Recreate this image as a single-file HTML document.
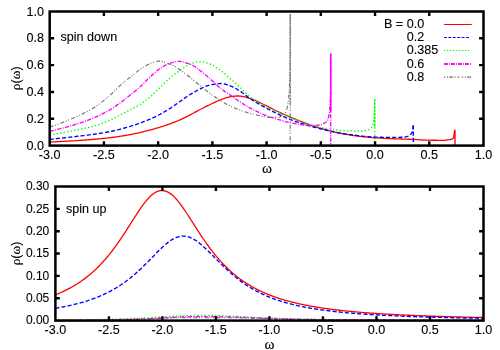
<!DOCTYPE html>
<html><head><meta charset="utf-8"><title>rho(omega)</title>
<style>html,body{margin:0;padding:0;background:#fff;}svg{display:block;will-change:transform;}text{font-family:"Liberation Sans",sans-serif;font-size:12px;fill:#000;stroke:#000;stroke-width:0.1px;}.sym{font-family:"Liberation Serif",serif;}</style></head><body>
<svg width="500" height="350" viewBox="0 0 500 350">
<rect x="0" y="0" width="500" height="350" fill="#ffffff"/>
<clipPath id="c11"><rect x="49.70" y="11.50" width="433.80" height="134.10"/></clipPath>
<g clip-path="url(#c11)" fill="none" stroke-linejoin="round">
<path d="M49.70 142.00 L50.70 141.96 L51.70 141.91 L52.70 141.87 L53.70 141.83 L54.70 141.78 L55.70 141.74 L56.70 141.69 L57.70 141.64 L58.70 141.59 L59.70 141.55 L60.70 141.50 L61.70 141.45 L62.70 141.40 L63.70 141.35 L64.70 141.29 L65.70 141.24 L66.70 141.19 L67.70 141.13 L68.70 141.08 L69.70 141.02 L70.70 140.96 L71.70 140.90 L72.70 140.84 L73.70 140.78 L74.70 140.72 L75.70 140.66 L76.70 140.60 L77.70 140.53 L78.70 140.47 L79.70 140.40 L80.70 140.34 L81.70 140.27 L82.70 140.20 L83.70 140.13 L84.70 140.06 L85.70 139.98 L86.70 139.91 L87.70 139.83 L88.70 139.76 L89.70 139.68 L90.70 139.60 L91.70 139.52 L92.70 139.43 L93.70 139.35 L94.70 139.26 L95.70 139.18 L96.70 139.09 L97.70 139.00 L98.70 138.90 L99.70 138.81 L100.70 138.71 L101.70 138.61 L102.70 138.51 L103.70 138.41 L104.70 138.30 L105.70 138.19 L106.70 138.08 L107.70 137.97 L108.70 137.86 L109.70 137.74 L110.70 137.62 L111.70 137.50 L112.70 137.37 L113.70 137.24 L114.70 137.10 L115.70 136.97 L116.70 136.83 L117.70 136.68 L118.70 136.54 L119.70 136.39 L120.70 136.23 L121.70 136.07 L122.70 135.91 L123.70 135.75 L124.70 135.58 L125.70 135.41 L126.70 135.23 L127.70 135.05 L128.70 134.87 L129.70 134.69 L130.70 134.50 L131.70 134.30 L132.70 134.11 L133.70 133.91 L134.70 133.70 L135.70 133.50 L136.70 133.29 L137.70 133.07 L138.70 132.86 L139.70 132.64 L140.70 132.41 L141.70 132.18 L142.70 131.95 L143.70 131.70 L144.70 131.46 L145.70 131.21 L146.70 130.95 L147.70 130.69 L148.70 130.42 L149.70 130.15 L150.70 129.88 L151.70 129.60 L152.70 129.32 L153.70 129.03 L154.70 128.74 L155.70 128.45 L156.70 128.15 L157.70 127.86 L158.70 127.55 L159.70 127.25 L160.70 126.95 L161.70 126.64 L162.70 126.32 L163.70 126.00 L164.70 125.68 L165.70 125.34 L166.70 125.01 L167.70 124.66 L168.70 124.31 L169.70 123.96 L170.70 123.59 L171.70 123.22 L172.70 122.85 L173.70 122.46 L174.70 122.07 L175.70 121.67 L176.70 121.27 L177.70 120.86 L178.70 120.44 L179.70 120.01 L180.70 119.57 L181.70 119.12 L182.70 118.65 L183.70 118.17 L184.70 117.69 L185.70 117.19 L186.70 116.68 L187.70 116.16 L188.70 115.64 L189.70 115.11 L190.70 114.58 L191.70 114.04 L192.70 113.50 L193.70 112.96 L194.70 112.42 L195.70 111.89 L196.70 111.35 L197.70 110.82 L198.70 110.29 L199.70 109.76 L200.70 109.25 L201.70 108.73 L202.70 108.22 L203.70 107.71 L204.70 107.20 L205.70 106.70 L206.70 106.20 L207.70 105.70 L208.70 105.21 L209.70 104.72 L210.70 104.24 L211.70 103.75 L212.70 103.28 L213.70 102.81 L214.70 102.34 L215.70 101.89 L216.70 101.44 L217.70 101.00 L218.70 100.57 L219.70 100.16 L220.70 99.75 L221.70 99.36 L222.70 98.99 L223.70 98.64 L224.70 98.30 L225.70 97.98 L226.70 97.69 L227.70 97.41 L228.70 97.16 L229.70 96.93 L230.70 96.72 L231.70 96.54 L232.70 96.38 L233.70 96.25 L234.70 96.15 L235.70 96.07 L236.70 96.02 L237.70 96.00 L238.00 96.00 L238.70 96.01 L239.70 96.07 L240.70 96.18 L241.70 96.33 L242.70 96.51 L243.70 96.72 L244.70 96.95 L245.70 97.21 L246.70 97.48 L247.70 97.75 L248.70 98.04 L249.70 98.32 L250.70 98.61 L251.70 98.94 L252.70 99.32 L253.70 99.74 L254.70 100.18 L255.70 100.65 L256.70 101.13 L257.70 101.61 L258.70 102.09 L259.70 102.56 L260.70 103.02 L261.70 103.49 L262.70 103.97 L263.70 104.46 L264.70 104.96 L265.70 105.45 L266.70 105.95 L267.70 106.45 L268.70 106.95 L269.70 107.45 L270.70 107.95 L271.70 108.45 L272.70 108.96 L273.70 109.47 L274.70 109.98 L275.70 110.49 L276.70 110.99 L277.70 111.49 L278.70 111.98 L279.70 112.46 L280.70 112.93 L281.70 113.38 L282.70 113.84 L283.70 114.28 L284.70 114.72 L285.70 115.16 L286.70 115.59 L287.70 116.02 L288.70 116.45 L289.70 116.87 L290.70 117.30 L291.70 117.72 L292.70 118.14 L293.70 118.55 L294.70 118.96 L295.70 119.37 L296.70 119.78 L297.70 120.18 L298.70 120.58 L299.70 120.98 L300.70 121.38 L301.70 121.77 L302.70 122.17 L303.70 122.56 L304.70 122.95 L305.70 123.34 L306.70 123.71 L307.70 124.08 L308.70 124.45 L309.70 124.80 L310.70 125.14 L311.70 125.47 L312.70 125.78 L313.70 126.10 L314.70 126.40 L315.70 126.71 L316.70 127.01 L317.70 127.31 L318.70 127.61 L319.70 127.91 L320.70 128.22 L321.70 128.53 L322.70 128.85 L323.70 129.16 L324.70 129.48 L325.70 129.79 L326.70 130.09 L327.70 130.39 L328.70 130.66 L329.70 130.93 L330.70 131.17 L331.70 131.41 L332.70 131.65 L333.70 131.88 L334.70 132.11 L335.70 132.33 L336.70 132.55 L337.70 132.76 L338.70 132.97 L339.70 133.18 L340.70 133.38 L341.70 133.57 L342.70 133.76 L343.70 133.95 L344.70 134.13 L345.70 134.31 L346.70 134.48 L347.70 134.64 L348.70 134.80 L349.70 134.95 L350.70 135.10 L351.70 135.25 L352.70 135.40 L353.70 135.54 L354.70 135.68 L355.70 135.82 L356.70 135.95 L357.70 136.08 L358.70 136.21 L359.70 136.34 L360.70 136.46 L361.70 136.58 L362.70 136.69 L363.70 136.80 L364.70 136.91 L365.70 137.01 L366.70 137.11 L367.70 137.20 L368.70 137.29 L369.70 137.38 L370.70 137.46 L371.70 137.53 L372.70 137.61 L373.70 137.68 L374.70 137.75 L375.70 137.82 L376.70 137.88 L377.70 137.95 L378.70 138.01 L379.70 138.07 L380.70 138.13 L381.70 138.19 L382.70 138.24 L383.70 138.30 L384.70 138.35 L385.70 138.40 L386.70 138.45 L387.70 138.49 L388.70 138.54 L389.70 138.59 L390.70 138.63 L391.70 138.67 L392.70 138.71 L393.70 138.75 L394.70 138.79 L395.70 138.82 L396.70 138.86 L397.70 138.89 L398.70 138.92 L399.70 138.95 L400.70 138.98 L401.70 139.01 L402.70 139.04 L403.70 139.07 L404.70 139.11 L405.70 139.14 L406.70 139.17 L407.70 139.20 L408.70 139.24 L409.70 139.27 L410.70 139.31 L411.70 139.35 L412.70 139.39 L413.70 139.43 L414.70 139.48 L415.70 139.54 L416.70 139.60 L417.70 139.66 L418.70 139.72 L419.70 139.79 L420.70 139.85 L421.70 139.92 L422.70 139.98 L423.70 140.03 L424.70 140.08 L425.70 140.12 L426.70 140.16 L427.70 140.19 L428.70 140.20 L429.70 140.21 L430.70 140.22 L431.70 140.23 L432.70 140.24 L433.70 140.25 L434.70 140.26 L435.70 140.27 L436.70 140.27 L437.70 140.28 L438.70 140.29 L439.70 140.29 L440.70 140.29 L441.70 140.30 L442.70 140.30 L443.70 140.30 L444.70 140.27 L445.70 140.15 L446.70 139.99 L447.70 139.86 L448.70 139.73 L449.70 139.57 L450.70 139.37 L451.70 139.09 L452.70 138.61 L453.70 137.50 L454.65 130.20 L455.00 130.40 L455.00 145.60" stroke="#ff0000" stroke-width="1.3"/>
<path d="M49.70 139.40 L50.70 139.29 L51.70 139.19 L52.70 139.08 L53.70 138.97 L54.70 138.87 L55.70 138.76 L56.70 138.65 L57.70 138.54 L58.70 138.43 L59.70 138.32 L60.70 138.21 L61.70 138.10 L62.70 137.99 L63.70 137.88 L64.70 137.77 L65.70 137.66 L66.70 137.54 L67.70 137.43 L68.70 137.31 L69.70 137.20 L70.70 137.09 L71.70 136.97 L72.70 136.86 L73.70 136.74 L74.70 136.63 L75.70 136.52 L76.70 136.40 L77.70 136.29 L78.70 136.17 L79.70 136.05 L80.70 135.94 L81.70 135.82 L82.70 135.70 L83.70 135.58 L84.70 135.45 L85.70 135.33 L86.70 135.20 L87.70 135.07 L88.70 134.94 L89.70 134.80 L90.70 134.67 L91.70 134.53 L92.70 134.39 L93.70 134.25 L94.70 134.11 L95.70 133.96 L96.70 133.82 L97.70 133.67 L98.70 133.52 L99.70 133.37 L100.70 133.21 L101.70 133.06 L102.70 132.89 L103.70 132.73 L104.70 132.56 L105.70 132.38 L106.70 132.21 L107.70 132.02 L108.70 131.83 L109.70 131.64 L110.70 131.44 L111.70 131.24 L112.70 131.02 L113.70 130.80 L114.70 130.58 L115.70 130.34 L116.70 130.10 L117.70 129.86 L118.70 129.60 L119.70 129.35 L120.70 129.08 L121.70 128.82 L122.70 128.54 L123.70 128.27 L124.70 127.99 L125.70 127.70 L126.70 127.41 L127.70 127.12 L128.70 126.83 L129.70 126.53 L130.70 126.22 L131.70 125.92 L132.70 125.60 L133.70 125.28 L134.70 124.95 L135.70 124.62 L136.70 124.27 L137.70 123.93 L138.70 123.57 L139.70 123.21 L140.70 122.85 L141.70 122.48 L142.70 122.10 L143.70 121.71 L144.70 121.32 L145.70 120.93 L146.70 120.53 L147.70 120.12 L148.70 119.71 L149.70 119.29 L150.70 118.87 L151.70 118.43 L152.70 117.97 L153.70 117.50 L154.70 117.03 L155.70 116.54 L156.70 116.03 L157.70 115.52 L158.70 115.01 L159.70 114.48 L160.70 113.95 L161.70 113.40 L162.70 112.84 L163.70 112.27 L164.70 111.69 L165.70 111.10 L166.70 110.50 L167.70 109.89 L168.70 109.27 L169.70 108.64 L170.70 108.00 L171.70 107.34 L172.70 106.67 L173.70 105.98 L174.70 105.28 L175.70 104.57 L176.70 103.86 L177.70 103.16 L178.70 102.45 L179.70 101.75 L180.70 101.06 L181.70 100.34 L182.70 99.62 L183.70 98.88 L184.70 98.16 L185.70 97.43 L186.70 96.73 L187.70 96.05 L188.70 95.39 L189.70 94.78 L190.70 94.19 L191.70 93.60 L192.70 93.02 L193.70 92.43 L194.70 91.86 L195.70 91.29 L196.70 90.72 L197.70 90.18 L198.70 89.64 L199.70 89.13 L200.70 88.63 L201.70 88.13 L202.70 87.64 L203.70 87.18 L204.70 86.74 L205.70 86.33 L206.70 85.96 L207.70 85.62 L208.70 85.33 L209.70 85.09 L210.70 84.88 L211.70 84.68 L212.70 84.49 L213.70 84.31 L214.70 84.14 L215.70 83.98 L216.70 83.84 L217.70 83.72 L218.70 83.62 L219.70 83.55 L220.70 83.51 L221.70 83.51 L222.70 83.61 L223.70 83.78 L224.70 84.02 L225.70 84.31 L226.70 84.64 L227.70 84.99 L228.70 85.35 L229.70 85.70 L230.70 86.06 L231.70 86.46 L232.70 86.90 L233.70 87.39 L234.70 87.91 L235.70 88.46 L236.70 89.03 L237.70 89.62 L238.70 90.21 L239.70 90.82 L240.70 91.46 L241.70 92.17 L242.70 92.92 L243.70 93.71 L244.70 94.52 L245.70 95.33 L246.70 96.14 L247.70 96.92 L248.70 97.68 L249.70 98.40 L250.70 99.06 L251.70 99.71 L252.70 100.34 L253.70 100.95 L254.70 101.55 L255.70 102.14 L256.70 102.72 L257.70 103.29 L258.70 103.86 L259.70 104.43 L260.70 105.00 L261.70 105.56 L262.70 106.11 L263.70 106.66 L264.70 107.20 L265.70 107.74 L266.70 108.27 L267.70 108.80 L268.70 109.32 L269.70 109.84 L270.70 110.36 L271.70 110.88 L272.70 111.39 L273.70 111.91 L274.70 112.41 L275.70 112.91 L276.70 113.41 L277.70 113.90 L278.70 114.38 L279.70 114.86 L280.70 115.33 L281.70 115.79 L282.70 116.25 L283.70 116.71 L284.70 117.16 L285.70 117.60 L286.70 118.03 L287.70 118.46 L288.70 118.88 L289.70 119.28 L290.70 119.68 L291.70 120.06 L292.70 120.44 L293.70 120.81 L294.70 121.18 L295.70 121.54 L296.70 121.89 L297.70 122.23 L298.70 122.57 L299.70 122.90 L300.70 123.23 L301.70 123.55 L302.70 123.86 L303.70 124.17 L304.70 124.47 L305.70 124.77 L306.70 125.06 L307.70 125.35 L308.70 125.64 L309.70 125.92 L310.70 126.19 L311.70 126.47 L312.70 126.73 L313.70 127.00 L314.70 127.26 L315.70 127.52 L316.70 127.77 L317.70 128.02 L318.70 128.27 L319.70 128.53 L320.70 128.78 L321.70 129.03 L322.70 129.28 L323.70 129.53 L324.70 129.78 L325.70 130.02 L326.70 130.26 L327.70 130.49 L328.70 130.72 L329.70 130.94 L330.70 131.15 L331.70 131.35 L332.70 131.56 L333.70 131.76 L334.70 131.96 L335.70 132.16 L336.70 132.36 L337.70 132.55 L338.70 132.74 L339.70 132.93 L340.70 133.11 L341.70 133.29 L342.70 133.46 L343.70 133.63 L344.70 133.80 L345.70 133.96 L346.70 134.12 L347.70 134.27 L348.70 134.42 L349.70 134.56 L350.70 134.70 L351.70 134.83 L352.70 134.97 L353.70 135.11 L354.70 135.24 L355.70 135.38 L356.70 135.51 L357.70 135.64 L358.70 135.77 L359.70 135.89 L360.70 136.01 L361.70 136.12 L362.70 136.23 L363.70 136.33 L364.70 136.42 L365.70 136.51 L366.70 136.59 L367.70 136.67 L368.70 136.73 L369.70 136.79 L370.70 136.83 L371.70 136.88 L372.70 136.93 L373.70 136.97 L374.70 137.01 L375.70 137.06 L376.70 137.10 L377.70 137.14 L378.70 137.17 L379.70 137.21 L380.70 137.24 L381.70 137.27 L382.70 137.30 L383.70 137.32 L384.70 137.34 L385.70 137.36 L386.70 137.38 L387.70 137.39 L388.70 137.40 L389.70 137.40 L390.70 137.40 L391.70 137.40 L392.70 137.39 L393.70 137.38 L394.70 137.38 L395.70 137.37 L396.70 137.35 L397.70 137.34 L398.70 137.32 L399.70 137.31 L400.70 137.28 L401.70 137.24 L402.70 137.19 L403.70 137.12 L404.70 137.02 L405.70 136.86 L406.70 136.64 L407.70 136.32 L408.70 135.83 L409.70 135.12 L410.70 134.27 L411.70 133.06 L412.70 130.80 L413.10 124.40 L413.30 124.40 L413.30 143.00" stroke="#0000ff" stroke-width="1.35" stroke-dasharray="4.1 2.1"/>
<path d="M49.70 135.10 L50.70 134.90 L51.70 134.71 L52.70 134.52 L53.70 134.33 L54.70 134.13 L55.70 133.94 L56.70 133.75 L57.70 133.56 L58.70 133.37 L59.70 133.17 L60.70 132.98 L61.70 132.79 L62.70 132.59 L63.70 132.40 L64.70 132.21 L65.70 132.01 L66.70 131.82 L67.70 131.62 L68.70 131.43 L69.70 131.23 L70.70 131.04 L71.70 130.84 L72.70 130.66 L73.70 130.47 L74.70 130.29 L75.70 130.11 L76.70 129.93 L77.70 129.75 L78.70 129.57 L79.70 129.39 L80.70 129.20 L81.70 129.01 L82.70 128.82 L83.70 128.62 L84.70 128.41 L85.70 128.20 L86.70 127.98 L87.70 127.76 L88.70 127.52 L89.70 127.27 L90.70 127.02 L91.70 126.75 L92.70 126.47 L93.70 126.17 L94.70 125.87 L95.70 125.55 L96.70 125.23 L97.70 124.90 L98.70 124.55 L99.70 124.20 L100.70 123.84 L101.70 123.47 L102.70 123.10 L103.70 122.72 L104.70 122.33 L105.70 121.94 L106.70 121.53 L107.70 121.10 L108.70 120.67 L109.70 120.23 L110.70 119.78 L111.70 119.31 L112.70 118.83 L113.70 118.33 L114.70 117.83 L115.70 117.32 L116.70 116.80 L117.70 116.28 L118.70 115.76 L119.70 115.24 L120.70 114.73 L121.70 114.20 L122.70 113.68 L123.70 113.15 L124.70 112.63 L125.70 112.10 L126.70 111.57 L127.70 111.04 L128.70 110.51 L129.70 109.99 L130.70 109.47 L131.70 108.95 L132.70 108.44 L133.70 107.93 L134.70 107.41 L135.70 106.88 L136.70 106.33 L137.70 105.77 L138.70 105.19 L139.70 104.59 L140.70 103.95 L141.70 103.30 L142.70 102.62 L143.70 101.91 L144.70 101.19 L145.70 100.44 L146.70 99.68 L147.70 98.90 L148.70 98.11 L149.70 97.30 L150.70 96.47 L151.70 95.60 L152.70 94.70 L153.70 93.77 L154.70 92.82 L155.70 91.85 L156.70 90.88 L157.70 89.91 L158.70 88.94 L159.70 87.98 L160.70 87.03 L161.70 86.05 L162.70 85.06 L163.70 84.05 L164.70 83.04 L165.70 82.03 L166.70 81.03 L167.70 80.06 L168.70 79.13 L169.70 78.24 L170.70 77.39 L171.70 76.57 L172.70 75.78 L173.70 75.01 L174.70 74.26 L175.70 73.54 L176.70 72.82 L177.70 72.12 L178.70 71.42 L179.70 70.73 L180.70 70.03 L181.70 69.31 L182.70 68.57 L183.70 67.83 L184.70 67.11 L185.70 66.41 L186.70 65.75 L187.70 65.14 L188.70 64.59 L189.70 64.12 L190.70 63.76 L191.70 63.41 L192.70 63.08 L193.70 62.75 L194.70 62.46 L195.70 62.19 L196.70 61.96 L197.70 61.78 L198.70 61.66 L199.70 61.60 L200.70 61.62 L201.70 61.70 L202.70 61.85 L203.70 62.05 L204.70 62.29 L205.70 62.57 L206.70 62.88 L207.70 63.21 L208.70 63.55 L209.70 63.90 L210.70 64.26 L211.70 64.69 L212.70 65.19 L213.70 65.75 L214.70 66.36 L215.70 67.00 L216.70 67.68 L217.70 68.37 L218.70 69.08 L219.70 69.79 L220.70 70.51 L221.70 71.27 L222.70 72.08 L223.70 72.92 L224.70 73.79 L225.70 74.68 L226.70 75.57 L227.70 76.47 L228.70 77.36 L229.70 78.24 L230.70 79.10 L231.70 79.95 L232.70 80.81 L233.70 81.66 L234.70 82.52 L235.70 83.38 L236.70 84.24 L237.70 85.12 L238.70 86.02 L239.70 86.92 L240.70 87.86 L241.70 88.85 L242.70 89.88 L243.70 90.92 L244.70 91.98 L245.70 93.02 L246.70 94.04 L247.70 95.01 L248.70 95.93 L249.70 96.77 L250.70 97.53 L251.70 98.25 L252.70 98.94 L253.70 99.59 L254.70 100.23 L255.70 100.84 L256.70 101.43 L257.70 102.01 L258.70 102.57 L259.70 103.13 L260.70 103.68 L261.70 104.22 L262.70 104.73 L263.70 105.23 L264.70 105.73 L265.70 106.21 L266.70 106.69 L267.70 107.17 L268.70 107.66 L269.70 108.15 L270.70 108.65 L271.70 109.16 L272.70 109.67 L273.70 110.18 L274.70 110.69 L275.70 111.20 L276.70 111.71 L277.70 112.20 L278.70 112.69 L279.70 113.16 L280.70 113.62 L281.70 114.08 L282.70 114.54 L283.70 114.99 L284.70 115.44 L285.70 115.87 L286.70 116.30 L287.70 116.71 L288.70 117.11 L289.70 117.49 L290.70 117.85 L291.70 118.19 L292.70 118.52 L293.70 118.83 L294.70 119.14 L295.70 119.44 L296.70 119.74 L297.70 120.05 L298.70 120.37 L299.70 120.70 L300.70 121.04 L301.70 121.41 L302.70 121.78 L303.70 122.17 L304.70 122.56 L305.70 122.94 L306.70 123.33 L307.70 123.70 L308.70 124.06 L309.70 124.40 L310.70 124.73 L311.70 125.05 L312.70 125.38 L313.70 125.70 L314.70 126.01 L315.70 126.31 L316.70 126.59 L317.70 126.86 L318.70 127.11 L319.70 127.34 L320.70 127.54 L321.70 127.73 L322.70 127.90 L323.70 128.07 L324.70 128.23 L325.70 128.38 L326.70 128.52 L327.70 128.67 L328.70 128.81 L329.70 128.96 L330.70 129.11 L331.70 129.26 L332.70 129.42 L333.70 129.58 L334.70 129.74 L335.70 129.89 L336.70 130.03 L337.70 130.16 L338.70 130.27 L339.70 130.37 L340.70 130.46 L341.70 130.54 L342.70 130.62 L343.70 130.69 L344.70 130.76 L345.70 130.83 L346.70 130.88 L347.70 130.93 L348.70 130.97 L349.70 130.99 L350.70 131.01 L351.70 131.03 L352.70 131.04 L353.70 131.06 L354.70 131.07 L355.70 131.08 L356.70 131.09 L357.70 131.09 L358.70 131.10 L359.70 131.10 L360.70 131.09 L361.70 131.04 L362.70 130.96 L363.70 130.84 L364.70 130.71 L365.70 130.55 L366.70 130.35 L367.70 130.05 L368.70 129.62 L369.70 129.08 L370.70 128.36 L371.70 127.18 L372.70 125.37 L373.70 121.38 L374.50 108.00 L374.70 99.60 L374.70 145.60" stroke="#00ff00" stroke-width="1.35" stroke-dasharray="1.4 2.15"/>
<path d="M49.70 131.20 L50.70 130.99 L51.70 130.77 L52.70 130.55 L53.70 130.33 L54.70 130.10 L55.70 129.86 L56.70 129.62 L57.70 129.38 L58.70 129.14 L59.70 128.89 L60.70 128.63 L61.70 128.38 L62.70 128.11 L63.70 127.85 L64.70 127.58 L65.70 127.31 L66.70 127.03 L67.70 126.76 L68.70 126.47 L69.70 126.19 L70.70 125.90 L71.70 125.61 L72.70 125.32 L73.70 125.02 L74.70 124.72 L75.70 124.41 L76.70 124.10 L77.70 123.78 L78.70 123.46 L79.70 123.14 L80.70 122.81 L81.70 122.47 L82.70 122.13 L83.70 121.78 L84.70 121.43 L85.70 121.07 L86.70 120.70 L87.70 120.32 L88.70 119.94 L89.70 119.55 L90.70 119.15 L91.70 118.75 L92.70 118.33 L93.70 117.91 L94.70 117.48 L95.70 117.04 L96.70 116.59 L97.70 116.13 L98.70 115.67 L99.70 115.19 L100.70 114.71 L101.70 114.21 L102.70 113.71 L103.70 113.20 L104.70 112.67 L105.70 112.14 L106.70 111.60 L107.70 111.05 L108.70 110.49 L109.70 109.91 L110.70 109.33 L111.70 108.72 L112.70 108.09 L113.70 107.44 L114.70 106.77 L115.70 106.09 L116.70 105.39 L117.70 104.67 L118.70 103.95 L119.70 103.21 L120.70 102.46 L121.70 101.70 L122.70 100.93 L123.70 100.15 L124.70 99.37 L125.70 98.58 L126.70 97.79 L127.70 97.00 L128.70 96.22 L129.70 95.43 L130.70 94.64 L131.70 93.86 L132.70 93.06 L133.70 92.26 L134.70 91.45 L135.70 90.63 L136.70 89.80 L137.70 88.96 L138.70 88.09 L139.70 87.21 L140.70 86.30 L141.70 85.36 L142.70 84.38 L143.70 83.37 L144.70 82.36 L145.70 81.34 L146.70 80.32 L147.70 79.31 L148.70 78.33 L149.70 77.38 L150.70 76.46 L151.70 75.53 L152.70 74.60 L153.70 73.69 L154.70 72.79 L155.70 71.91 L156.70 71.06 L157.70 70.25 L158.70 69.49 L159.70 68.78 L160.70 68.12 L161.70 67.47 L162.70 66.84 L163.70 66.23 L164.70 65.65 L165.70 65.10 L166.70 64.59 L167.70 64.13 L168.70 63.71 L169.70 63.36 L170.70 63.04 L171.70 62.73 L172.70 62.43 L173.70 62.15 L174.70 61.89 L175.70 61.68 L176.70 61.52 L177.70 61.42 L178.70 61.39 L179.70 61.43 L180.70 61.53 L181.70 61.68 L182.70 61.88 L183.70 62.13 L184.70 62.40 L185.70 62.71 L186.70 63.04 L187.70 63.38 L188.70 63.74 L189.70 64.09 L190.70 64.47 L191.70 64.91 L192.70 65.42 L193.70 66.00 L194.70 66.62 L195.70 67.29 L196.70 68.00 L197.70 68.74 L198.70 69.51 L199.70 70.28 L200.70 71.03 L201.70 71.79 L202.70 72.57 L203.70 73.37 L204.70 74.17 L205.70 74.99 L206.70 75.82 L207.70 76.66 L208.70 77.51 L209.70 78.37 L210.70 79.25 L211.70 80.17 L212.70 81.11 L213.70 82.08 L214.70 83.06 L215.70 84.03 L216.70 84.98 L217.70 85.91 L218.70 86.81 L219.70 87.65 L220.70 88.44 L221.70 89.20 L222.70 89.93 L223.70 90.63 L224.70 91.32 L225.70 92.00 L226.70 92.67 L227.70 93.34 L228.70 94.01 L229.70 94.69 L230.70 95.39 L231.70 96.09 L232.70 96.80 L233.70 97.51 L234.70 98.22 L235.70 98.92 L236.70 99.62 L237.70 100.31 L238.70 100.99 L239.70 101.66 L240.70 102.31 L241.70 102.95 L242.70 103.59 L243.70 104.22 L244.70 104.84 L245.70 105.45 L246.70 106.05 L247.70 106.65 L248.70 107.24 L249.70 107.83 L250.70 108.37 L251.70 108.90 L252.70 109.43 L253.70 109.95 L254.70 110.46 L255.70 110.96 L256.70 111.46 L257.70 111.94 L258.70 112.41 L259.70 112.87 L260.70 113.31 L261.70 113.75 L262.70 114.17 L263.70 114.59 L264.70 115.01 L265.70 115.41 L266.70 115.80 L267.70 116.18 L268.70 116.54 L269.70 116.90 L270.70 117.24 L271.70 117.57 L272.70 117.88 L273.70 118.19 L274.70 118.49 L275.70 118.79 L276.70 119.07 L277.70 119.36 L278.70 119.64 L279.70 119.92 L280.70 120.20 L281.70 120.48 L282.70 120.75 L283.70 121.03 L284.70 121.30 L285.70 121.57 L286.70 121.83 L287.70 122.07 L288.70 122.31 L289.70 122.54 L290.70 122.75 L291.70 122.95 L292.70 123.15 L293.70 123.35 L294.70 123.53 L295.70 123.71 L296.70 123.88 L297.70 124.05 L298.70 124.21 L299.70 124.36 L300.70 124.50 L301.70 124.66 L302.70 124.82 L303.70 124.98 L304.70 125.14 L305.70 125.28 L306.70 125.40 L307.70 125.50 L308.70 125.57 L309.70 125.60 L310.70 125.60 L311.70 125.58 L312.70 125.55 L313.70 125.50 L314.70 125.45 L315.70 125.38 L316.70 125.31 L317.70 125.23 L318.70 125.11 L319.70 124.92 L320.70 124.64 L321.70 124.30 L322.70 123.89 L323.70 123.44 L324.70 122.93 L325.70 122.24 L326.70 121.27 L327.70 119.80 L328.70 116.78 L329.70 110.97 L330.50 96.00 L330.70 88.00 L330.70 53.90 L330.70 145.60" stroke="#ff00ff" stroke-width="1.35" stroke-dasharray="4.2 1.3 1.0 1.3"/>
<path d="M49.70 126.90 L50.70 126.66 L51.70 126.39 L52.70 126.08 L53.70 125.75 L54.70 125.40 L55.70 125.03 L56.70 124.64 L57.70 124.30 L58.70 123.97 L59.70 123.62 L60.70 123.25 L61.70 122.87 L62.70 122.48 L63.70 122.08 L64.70 121.67 L65.70 121.26 L66.70 120.84 L67.70 120.42 L68.70 120.00 L69.70 119.58 L70.70 119.16 L71.70 118.74 L72.70 118.32 L73.70 117.89 L74.70 117.46 L75.70 117.02 L76.70 116.58 L77.70 116.14 L78.70 115.68 L79.70 115.22 L80.70 114.76 L81.70 114.28 L82.70 113.80 L83.70 113.31 L84.70 112.81 L85.70 112.31 L86.70 111.79 L87.70 111.26 L88.70 110.72 L89.70 110.17 L90.70 109.60 L91.70 109.03 L92.70 108.44 L93.70 107.82 L94.70 107.19 L95.70 106.52 L96.70 105.84 L97.70 105.14 L98.70 104.41 L99.70 103.67 L100.70 102.92 L101.70 102.14 L102.70 101.36 L103.70 100.56 L104.70 99.74 L105.70 98.92 L106.70 98.09 L107.70 97.25 L108.70 96.41 L109.70 95.56 L110.70 94.69 L111.70 93.77 L112.70 92.80 L113.70 91.81 L114.70 90.80 L115.70 89.77 L116.70 88.76 L117.70 87.76 L118.70 86.78 L119.70 85.85 L120.70 84.96 L121.70 84.10 L122.70 83.26 L123.70 82.44 L124.70 81.63 L125.70 80.81 L126.70 79.98 L127.70 79.15 L128.70 78.33 L129.70 77.53 L130.70 76.76 L131.70 75.97 L132.70 75.17 L133.70 74.35 L134.70 73.52 L135.70 72.71 L136.70 71.92 L137.70 71.15 L138.70 70.41 L139.70 69.71 L140.70 69.02 L141.70 68.34 L142.70 67.67 L143.70 67.01 L144.70 66.37 L145.70 65.76 L146.70 65.18 L147.70 64.64 L148.70 64.15 L149.70 63.72 L150.70 63.33 L151.70 62.93 L152.70 62.54 L153.70 62.17 L154.70 61.84 L155.70 61.55 L156.70 61.33 L157.70 61.18 L158.70 61.13 L159.70 61.17 L160.70 61.27 L161.70 61.44 L162.70 61.66 L163.70 61.92 L164.70 62.22 L165.70 62.55 L166.70 62.90 L167.70 63.26 L168.70 63.64 L169.70 64.02 L170.70 64.40 L171.70 64.85 L172.70 65.36 L173.70 65.91 L174.70 66.50 L175.70 67.13 L176.70 67.77 L177.70 68.42 L178.70 69.08 L179.70 69.74 L180.70 70.39 L181.70 71.07 L182.70 71.76 L183.70 72.48 L184.70 73.21 L185.70 73.95 L186.70 74.71 L187.70 75.48 L188.70 76.25 L189.70 77.03 L190.70 77.82 L191.70 78.62 L192.70 79.44 L193.70 80.27 L194.70 81.11 L195.70 81.95 L196.70 82.79 L197.70 83.62 L198.70 84.45 L199.70 85.26 L200.70 86.06 L201.70 86.87 L202.70 87.68 L203.70 88.49 L204.70 89.30 L205.70 90.11 L206.70 90.90 L207.70 91.68 L208.70 92.45 L209.70 93.20 L210.70 93.93 L211.70 94.65 L212.70 95.36 L213.70 96.06 L214.70 96.75 L215.70 97.43 L216.70 98.10 L217.70 98.76 L218.70 99.41 L219.70 100.04 L220.70 100.67 L221.70 101.29 L222.70 101.91 L223.70 102.52 L224.70 103.12 L225.70 103.70 L226.70 104.28 L227.70 104.83 L228.70 105.35 L229.70 105.86 L230.70 106.33 L231.70 106.78 L232.70 107.22 L233.70 107.63 L234.70 108.04 L235.70 108.43 L236.70 108.81 L237.70 109.19 L238.70 109.56 L239.70 109.92 L240.70 110.29 L241.70 110.66 L242.70 111.02 L243.70 111.38 L244.70 111.73 L245.70 112.08 L246.70 112.41 L247.70 112.73 L248.70 113.03 L249.70 113.31 L250.70 113.58 L251.70 113.84 L252.70 114.09 L253.70 114.32 L254.70 114.55 L255.70 114.77 L256.70 114.98 L257.70 115.18 L258.70 115.37 L259.70 115.55 L260.70 115.75 L261.70 115.99 L262.70 116.23 L263.70 116.47 L264.70 116.70 L265.70 116.91 L266.70 117.10 L267.70 117.24 L268.70 117.35 L269.70 117.40 L270.70 117.40 L271.70 117.40 L272.70 117.39 L273.70 117.38 L274.70 117.37 L275.70 117.35 L276.70 117.33 L277.70 117.31 L278.70 117.22 L279.70 116.91 L280.70 116.44 L281.70 115.85 L282.70 115.20 L283.70 114.50 L284.70 113.56 L285.70 112.15 L286.70 109.31 L287.70 105.18 L288.70 98.11 L289.70 82.85 L290.10 60.00 L290.20 50.00 L290.20 13.80 L290.20 145.60" stroke="#6c6c6c" stroke-width="1.1" stroke-dasharray="4 1.6 1 1.5 1 2.4"/>
<path d="M330.7 53.7 V112" stroke="#ff00ff" stroke-width="1.6"/><path d="M374.7 99.3 V127" stroke="#00ff00" stroke-width="1.3" stroke-dasharray="2.5 1.05"/><path d="M290.2 14.6 V104" stroke="#6c6c6c" stroke-width="1.1" stroke-dasharray="1 1.6 4 1.5 1 2.4"/>
</g>
<text transform="translate(49.70 159.20) scale(1.05 1)" text-anchor="middle">-3.0</text>
<text transform="translate(103.93 159.20) scale(1.05 1)" text-anchor="middle">-2.5</text>
<text transform="translate(158.15 159.20) scale(1.05 1)" text-anchor="middle">-2.0</text>
<text transform="translate(212.38 159.20) scale(1.05 1)" text-anchor="middle">-1.5</text>
<text transform="translate(266.60 159.20) scale(1.05 1)" text-anchor="middle">-1.0</text>
<text transform="translate(320.82 159.20) scale(1.05 1)" text-anchor="middle">-0.5</text>
<text transform="translate(375.05 159.20) scale(1.05 1)" text-anchor="middle">0.0</text>
<text transform="translate(429.27 159.20) scale(1.05 1)" text-anchor="middle">0.5</text>
<text transform="translate(483.50 159.20) scale(1.05 1)" text-anchor="middle">1.0</text>
<text transform="translate(44.00 149.80) scale(1.05 1)" text-anchor="end">0.0</text>
<text transform="translate(44.00 122.98) scale(1.05 1)" text-anchor="end">0.2</text>
<text transform="translate(44.00 96.16) scale(1.05 1)" text-anchor="end">0.4</text>
<text transform="translate(44.00 69.34) scale(1.05 1)" text-anchor="end">0.6</text>
<text transform="translate(44.00 41.72) scale(1.05 1)" text-anchor="end">0.8</text>
<text transform="translate(44.00 15.70) scale(1.05 1)" text-anchor="end">1.0</text>
<path d="M103.93 145.60 V141.20 M103.93 11.50 V15.90 M158.15 145.60 V141.20 M158.15 11.50 V15.90 M212.38 145.60 V141.20 M212.38 11.50 V15.90 M266.60 145.60 V141.20 M266.60 11.50 V15.90 M320.82 145.60 V141.20 M320.82 11.50 V15.90 M375.05 145.60 V141.20 M375.05 11.50 V15.90 M429.27 145.60 V141.20 M429.27 11.50 V15.90 M49.70 118.78 H54.10 M483.50 118.78 H479.10 M49.70 91.96 H54.10 M483.50 91.96 H479.10 M49.70 65.14 H54.10 M483.50 65.14 H479.10 M49.70 38.32 H54.10 M483.50 38.32 H479.10" stroke="#000" stroke-width="2.4" fill="none"/>
<rect x="49.70" y="11.50" width="433.80" height="134.10" fill="none" stroke="#000" stroke-width="2.5"/>
<text class="sym" transform="translate(266.90 173.20) scale(1.14 1.02)" text-anchor="middle" style="font-size:13.4px">&#969;</text>
<text transform="translate(19.80 78.30) rotate(-90) scale(1.03 1)" text-anchor="middle"><tspan class="sym" style="font-size:13px">&#961;</tspan>(<tspan class="sym" style="font-size:13px">&#969;</tspan>)</text>
<text transform="translate(60.50 41.40) scale(1.05 1)">spin down</text>
<text transform="translate(424.20 27.80) scale(1.05 1)" text-anchor="end">B = 0.0</text>
<path d="M444 24.5 H471.8" fill="none" stroke="#ff0000" stroke-width="1.0"/>
<text transform="translate(406.70 41.00) scale(1.05 1)">0.2</text>
<path d="M444 37.5 H470" fill="none" stroke="#0000ff" stroke-width="1.0" stroke-dasharray="2.9 1.5"/>
<text transform="translate(406.70 54.20) scale(1.05 1)">0.385</text>
<path d="M444.0 50.5 H470" fill="none" stroke="#00ff00" stroke-width="1.2" stroke-dasharray="1.3 1.7"/>
<text transform="translate(406.70 67.60) scale(1.05 1)">0.6</text>
<path d="M444 64.0 H471" fill="none" stroke="#ff00ff" stroke-width="1.9" stroke-dasharray="3.8 1.3 0.8 1.1"/>
<text transform="translate(406.70 80.60) scale(1.05 1)">0.8</text>
<path d="M444 77.2 H471.4" fill="none" stroke="#707070" stroke-width="1.2" stroke-dasharray="1.1 1.8 1.1 1.1 4.0 1.4 1.1 1.8 1.8 2.8"/>
<clipPath id="c186"><rect x="55.40" y="186.50" width="428.10" height="134.10"/></clipPath>
<g clip-path="url(#c186)" fill="none" stroke-linejoin="round">
<path d="M55.40 294.81 L56.40 294.41 L57.40 294.00 L58.40 293.58 L59.40 293.16 L60.40 292.72 L61.40 292.28 L62.40 291.82 L63.40 291.36 L64.40 290.88 L65.40 290.40 L66.40 289.90 L67.40 289.40 L68.40 288.88 L69.40 288.35 L70.40 287.81 L71.40 287.26 L72.40 286.70 L73.40 286.12 L74.40 285.53 L75.40 284.93 L76.40 284.32 L77.40 283.69 L78.40 283.05 L79.40 282.39 L80.40 281.72 L81.40 281.03 L82.40 280.33 L83.40 279.61 L84.40 278.87 L85.40 278.12 L86.40 277.36 L87.40 276.57 L88.40 275.77 L89.40 274.95 L90.40 274.11 L91.40 273.26 L92.40 272.38 L93.40 271.49 L94.40 270.58 L95.40 269.64 L96.40 268.69 L97.40 267.71 L98.40 266.72 L99.40 265.70 L100.40 264.67 L101.40 263.61 L102.40 262.53 L103.40 261.42 L104.40 260.30 L105.40 259.15 L106.40 257.98 L107.40 256.79 L108.40 255.57 L109.40 254.33 L110.40 253.08 L111.40 251.80 L112.40 250.50 L113.40 249.18 L114.40 247.84 L115.40 246.48 L116.40 245.10 L117.40 243.69 L118.40 242.27 L119.40 240.82 L120.40 239.36 L121.40 237.88 L122.40 236.39 L123.40 234.87 L124.40 233.35 L125.40 231.81 L126.40 230.26 L127.40 228.70 L128.40 227.13 L129.40 225.56 L130.40 223.98 L131.40 222.41 L132.40 220.83 L133.40 219.26 L134.40 217.69 L135.40 216.13 L136.40 214.59 L137.40 213.06 L138.40 211.55 L139.40 210.07 L140.40 208.61 L141.40 207.18 L142.40 205.78 L143.40 204.42 L144.40 203.11 L145.40 201.83 L146.40 200.61 L147.40 199.44 L148.40 198.33 L149.40 197.28 L150.40 196.29 L151.40 195.37 L152.40 194.52 L153.40 193.75 L154.40 193.05 L155.40 192.43 L156.40 191.90 L157.40 191.44 L158.40 191.08 L159.40 190.80 L160.40 190.61 L161.40 190.52 L162.40 190.51 L163.40 190.59 L164.40 190.76 L165.40 191.02 L166.40 191.36 L167.40 191.80 L168.40 192.32 L169.40 192.92 L170.40 193.60 L171.40 194.36 L172.40 195.19 L173.40 196.10 L174.40 197.07 L175.40 198.11 L176.40 199.21 L177.40 200.37 L178.40 201.58 L179.40 202.84 L180.40 204.15 L181.40 205.49 L182.40 206.88 L183.40 208.30 L184.40 209.76 L185.40 211.24 L186.40 212.74 L187.40 214.26 L188.40 215.80 L189.40 217.35 L190.40 218.91 L191.40 220.48 L192.40 222.06 L193.40 223.63 L194.40 225.21 L195.40 226.78 L196.40 228.34 L197.40 229.90 L198.40 231.45 L199.40 232.99 L200.40 234.52 L201.40 236.03 L202.40 237.53 L203.40 239.01 L204.40 240.47 L205.40 241.92 L206.40 243.34 L207.40 244.75 L208.40 246.13 L209.40 247.50 L210.40 248.84 L211.40 250.17 L212.40 251.47 L213.40 252.74 L214.40 254.00 L215.40 255.23 L216.40 256.44 L217.40 257.63 L218.40 258.79 L219.40 259.93 L220.40 261.05 L221.40 262.15 L222.40 263.23 L223.40 264.28 L224.40 265.32 L225.40 266.33 L226.40 267.32 L227.40 268.29 L228.40 269.24 L229.40 270.17 L230.40 271.08 L231.40 271.97 L232.40 272.84 L233.40 273.69 L234.40 274.52 L235.40 275.34 L236.40 276.14 L237.40 276.92 L238.40 277.68 L239.40 278.43 L240.40 279.16 L241.40 279.89 L242.40 280.60 L243.40 281.29 L244.40 281.97 L245.40 282.64 L246.40 283.29 L247.40 283.92 L248.40 284.54 L249.40 285.15 L250.40 285.75 L251.40 286.33 L252.40 286.90 L253.40 287.46 L254.40 288.00 L255.40 288.54 L256.40 289.06 L257.40 289.57 L258.40 290.07 L259.40 290.56 L260.40 291.04 L261.40 291.51 L262.40 291.97 L263.40 292.42 L264.40 292.86 L265.40 293.29 L266.40 293.71 L267.40 294.13 L268.40 294.53 L269.40 294.93 L270.40 295.32 L271.40 295.70 L272.40 296.07 L273.40 296.44 L274.40 296.80 L275.40 297.15 L276.40 297.49 L277.40 297.83 L278.40 298.16 L279.40 298.49 L280.40 298.80 L281.40 299.12 L282.40 299.42 L283.40 299.72 L284.40 300.01 L285.40 300.30 L286.40 300.59 L287.40 300.86 L288.40 301.13 L289.40 301.40 L290.40 301.66 L291.40 301.92 L292.40 302.18 L293.40 302.43 L294.40 302.67 L295.40 302.92 L296.40 303.15 L297.40 303.38 L298.40 303.61 L299.40 303.84 L300.40 304.06 L301.40 304.27 L302.40 304.48 L303.40 304.69 L304.40 304.90 L305.40 305.10 L306.40 305.29 L307.40 305.49 L308.40 305.68 L309.40 305.87 L310.40 306.05 L311.40 306.23 L312.40 306.41 L313.40 306.58 L314.40 306.75 L315.40 306.92 L316.40 307.09 L317.40 307.25 L318.40 307.41 L319.40 307.57 L320.40 307.73 L321.40 307.88 L322.40 308.03 L323.40 308.18 L324.40 308.32 L325.40 308.46 L326.40 308.60 L327.40 308.74 L328.40 308.88 L329.40 309.01 L330.40 309.14 L331.40 309.27 L332.40 309.40 L333.40 309.53 L334.40 309.65 L335.40 309.77 L336.40 309.89 L337.40 310.01 L338.40 310.13 L339.40 310.24 L340.40 310.35 L341.40 310.47 L342.40 310.57 L343.40 310.68 L344.40 310.79 L345.40 310.89 L346.40 311.00 L347.40 311.10 L348.40 311.20 L349.40 311.30 L350.40 311.39 L351.40 311.49 L352.40 311.58 L353.40 311.67 L354.40 311.76 L355.40 311.85 L356.40 311.94 L357.40 312.03 L358.40 312.12 L359.40 312.20 L360.40 312.28 L361.40 312.37 L362.40 312.45 L363.40 312.53 L364.40 312.61 L365.40 312.68 L366.40 312.76 L367.40 312.84 L368.40 312.91 L369.40 312.99 L370.40 313.06 L371.40 313.13 L372.40 313.20 L373.40 313.27 L374.40 313.34 L375.40 313.41 L376.40 313.48 L377.40 313.54 L378.40 313.61 L379.40 313.67 L380.40 313.74 L381.40 313.80 L382.40 313.86 L383.40 313.92 L384.40 313.98 L385.40 314.04 L386.40 314.10 L387.40 314.16 L388.40 314.22 L389.40 314.27 L390.40 314.33 L391.40 314.39 L392.40 314.44 L393.40 314.49 L394.40 314.55 L395.40 314.60 L396.40 314.65 L397.40 314.70 L398.40 314.75 L399.40 314.80 L400.40 314.85 L401.40 314.90 L402.40 314.95 L403.40 315.00 L404.40 315.05 L405.40 315.09 L406.40 315.14 L407.40 315.19 L408.40 315.23 L409.40 315.27 L410.40 315.32 L411.40 315.36 L412.40 315.41 L413.40 315.45 L414.40 315.49 L415.40 315.53 L416.40 315.57 L417.40 315.61 L418.40 315.65 L419.40 315.69 L420.40 315.73 L421.40 315.77 L422.40 315.81 L423.40 315.85 L424.40 315.88 L425.40 315.92 L426.40 315.96 L427.40 315.99 L428.40 316.03 L429.40 316.07 L430.40 316.10 L431.40 316.14 L432.40 316.17 L433.40 316.20 L434.40 316.24 L435.40 316.27 L436.40 316.30 L437.40 316.34 L438.40 316.37 L439.40 316.40 L440.40 316.43 L441.40 316.46 L442.40 316.49 L443.40 316.53 L444.40 316.56 L445.40 316.59 L446.40 316.61 L447.40 316.64 L448.40 316.67 L449.40 316.70 L450.40 316.73 L451.40 316.76 L452.40 316.79 L453.40 316.81 L454.40 316.84 L455.40 316.87 L456.40 316.89 L457.40 316.92 L458.40 316.95 L459.40 316.97 L460.40 317.00 L461.40 317.02 L462.40 317.05 L463.40 317.07 L464.40 317.10 L465.40 317.12 L466.40 317.15 L467.40 317.17 L468.40 317.20 L469.40 317.22 L470.40 317.24 L471.40 317.27 L472.40 317.29 L473.40 317.31 L474.40 317.33 L475.40 317.36 L476.40 317.38 L477.40 317.40 L478.40 317.42 L479.40 317.44 L480.40 317.46 L481.40 317.48 L482.40 317.50 L483.40 317.53 L483.50 317.53" stroke="#ff0000" stroke-width="1.3"/>
<path d="M55.40 308.28 L56.40 308.11 L57.40 307.94 L58.40 307.76 L59.40 307.58 L60.40 307.40 L61.40 307.21 L62.40 307.02 L63.40 306.83 L64.40 306.63 L65.40 306.43 L66.40 306.22 L67.40 306.01 L68.40 305.80 L69.40 305.58 L70.40 305.36 L71.40 305.13 L72.40 304.90 L73.40 304.66 L74.40 304.42 L75.40 304.17 L76.40 303.92 L77.40 303.66 L78.40 303.40 L79.40 303.13 L80.40 302.86 L81.40 302.58 L82.40 302.29 L83.40 302.00 L84.40 301.70 L85.40 301.40 L86.40 301.09 L87.40 300.77 L88.40 300.45 L89.40 300.11 L90.40 299.77 L91.40 299.43 L92.40 299.07 L93.40 298.71 L94.40 298.34 L95.40 297.96 L96.40 297.58 L97.40 297.18 L98.40 296.78 L99.40 296.36 L100.40 295.94 L101.40 295.51 L102.40 295.07 L103.40 294.62 L104.40 294.16 L105.40 293.69 L106.40 293.20 L107.40 292.71 L108.40 292.21 L109.40 291.69 L110.40 291.17 L111.40 290.63 L112.40 290.08 L113.40 289.51 L114.40 288.94 L115.40 288.35 L116.40 287.75 L117.40 287.14 L118.40 286.51 L119.40 285.87 L120.40 285.22 L121.40 284.55 L122.40 283.87 L123.40 283.18 L124.40 282.47 L125.40 281.75 L126.40 281.02 L127.40 280.27 L128.40 279.50 L129.40 278.72 L130.40 277.93 L131.40 277.12 L132.40 276.29 L133.40 275.45 L134.40 274.60 L135.40 273.73 L136.40 272.85 L137.40 271.95 L138.40 271.04 L139.40 270.11 L140.40 269.18 L141.40 268.23 L142.40 267.27 L143.40 266.30 L144.40 265.31 L145.40 264.32 L146.40 263.32 L147.40 262.31 L148.40 261.30 L149.40 260.27 L150.40 259.25 L151.40 258.22 L152.40 257.19 L153.40 256.16 L154.40 255.14 L155.40 254.11 L156.40 253.09 L157.40 252.08 L158.40 251.08 L159.40 250.09 L160.40 249.12 L161.40 248.16 L162.40 247.22 L163.40 246.30 L164.40 245.41 L165.40 244.54 L166.40 243.70 L167.40 242.89 L168.40 242.12 L169.40 241.38 L170.40 240.68 L171.40 240.03 L172.40 239.41 L173.40 238.85 L174.40 238.33 L175.40 237.86 L176.40 237.44 L177.40 237.08 L178.40 236.78 L179.40 236.52 L180.40 236.33 L181.40 236.20 L182.40 236.12 L183.40 236.10 L184.40 236.14 L185.40 236.24 L186.40 236.40 L187.40 236.62 L188.40 236.89 L189.40 237.22 L190.40 237.60 L191.40 238.03 L192.40 238.52 L193.40 239.05 L194.40 239.63 L195.40 240.26 L196.40 240.92 L197.40 241.63 L198.40 242.38 L199.40 243.15 L200.40 243.97 L201.40 244.81 L202.40 245.68 L203.40 246.57 L204.40 247.48 L205.40 248.42 L206.40 249.37 L207.40 250.34 L208.40 251.32 L209.40 252.31 L210.40 253.31 L211.40 254.31 L212.40 255.32 L213.40 256.33 L214.40 257.35 L215.40 258.36 L216.40 259.37 L217.40 260.38 L218.40 261.38 L219.40 262.38 L220.40 263.36 L221.40 264.35 L222.40 265.32 L223.40 266.28 L224.40 267.23 L225.40 268.17 L226.40 269.10 L227.40 270.02 L228.40 270.93 L229.40 271.82 L230.40 272.70 L231.40 273.58 L232.40 274.45 L233.40 275.31 L234.40 276.15 L235.40 276.97 L236.40 277.79 L237.40 278.58 L238.40 279.37 L239.40 280.13 L240.40 280.89 L241.40 281.63 L242.40 282.35 L243.40 283.06 L244.40 283.76 L245.40 284.44 L246.40 285.11 L247.40 285.76 L248.40 286.41 L249.40 287.03 L250.40 287.65 L251.40 288.25 L252.40 288.84 L253.40 289.42 L254.40 289.98 L255.40 290.53 L256.40 291.07 L257.40 291.60 L258.40 292.12 L259.40 292.62 L260.40 293.12 L261.40 293.60 L262.40 294.08 L263.40 294.54 L264.40 294.99 L265.40 295.44 L266.40 295.87 L267.40 296.30 L268.40 296.71 L269.40 297.12 L270.40 297.52 L271.40 297.90 L272.40 298.28 L273.40 298.66 L274.40 299.02 L275.40 299.38 L276.40 299.73 L277.40 300.07 L278.40 300.40 L279.40 300.73 L280.40 301.05 L281.40 301.36 L282.40 301.67 L283.40 301.97 L284.40 302.26 L285.40 302.55 L286.40 302.83 L287.40 303.11 L288.40 303.38 L289.40 303.64 L290.40 303.90 L291.40 304.16 L292.40 304.41 L293.40 304.65 L294.40 304.89 L295.40 305.13 L296.40 305.36 L297.40 305.58 L298.40 305.80 L299.40 306.02 L300.40 306.23 L301.40 306.44 L302.40 306.65 L303.40 306.85 L304.40 307.04 L305.40 307.23 L306.40 307.42 L307.40 307.61 L308.40 307.79 L309.40 307.97 L310.40 308.14 L311.40 308.31 L312.40 308.48 L313.40 308.65 L314.40 308.81 L315.40 308.97 L316.40 309.12 L317.40 309.28 L318.40 309.43 L319.40 309.58 L320.40 309.72 L321.40 309.86 L322.40 310.00 L323.40 310.14 L324.40 310.27 L325.40 310.41 L326.40 310.54 L327.40 310.66 L328.40 310.79 L329.40 310.91 L330.40 311.03 L331.40 311.15 L332.40 311.27 L333.40 311.38 L334.40 311.50 L335.40 311.61 L336.40 311.72 L337.40 311.83 L338.40 311.93 L339.40 312.04 L340.40 312.14 L341.40 312.24 L342.40 312.34 L343.40 312.43 L344.40 312.53 L345.40 312.62 L346.40 312.72 L347.40 312.81 L348.40 312.90 L349.40 312.98 L350.40 313.07 L351.40 313.16 L352.40 313.24 L353.40 313.32 L354.40 313.40 L355.40 313.48 L356.40 313.56 L357.40 313.64 L358.40 313.72 L359.40 313.79 L360.40 313.87 L361.40 313.94 L362.40 314.01 L363.40 314.08 L364.40 314.15 L365.40 314.22 L366.40 314.29 L367.40 314.36 L368.40 314.42 L369.40 314.49 L370.40 314.55 L371.40 314.61 L372.40 314.68 L373.40 314.74 L374.40 314.80 L375.40 314.86 L376.40 314.92 L377.40 314.97 L378.40 315.03 L379.40 315.09 L380.40 315.14 L381.40 315.20 L382.40 315.25 L383.40 315.30 L384.40 315.36 L385.40 315.41 L386.40 315.46 L387.40 315.51 L388.40 315.56 L389.40 315.61 L390.40 315.65 L391.40 315.70 L392.40 315.75 L393.40 315.79 L394.40 315.84 L395.40 315.88 L396.40 315.93 L397.40 315.97 L398.40 316.02 L399.40 316.06 L400.40 316.10 L401.40 316.14 L402.40 316.18 L403.40 316.22 L404.40 316.26 L405.40 316.30 L406.40 316.34 L407.40 316.38 L408.40 316.42 L409.40 316.46 L410.40 316.49 L411.40 316.53 L412.40 316.57 L413.40 316.60 L414.40 316.64 L415.40 316.67 L416.40 316.71 L417.40 316.74 L418.40 316.77 L419.40 316.81 L420.40 316.84 L421.40 316.87 L422.40 316.90 L423.40 316.94 L424.40 316.97 L425.40 317.00 L426.40 317.03 L427.40 317.06 L428.40 317.09 L429.40 317.12 L430.40 317.15 L431.40 317.17 L432.40 317.20 L433.40 317.23 L434.40 317.26 L435.40 317.29 L436.40 317.31 L437.40 317.34 L438.40 317.37 L439.40 317.39 L440.40 317.42 L441.40 317.44 L442.40 317.47 L443.40 317.49 L444.40 317.52 L445.40 317.54 L446.40 317.57 L447.40 317.59 L448.40 317.61 L449.40 317.64 L450.40 317.66 L451.40 317.68 L452.40 317.71 L453.40 317.73 L454.40 317.75 L455.40 317.77 L456.40 317.79 L457.40 317.82 L458.40 317.84 L459.40 317.86 L460.40 317.88 L461.40 317.90 L462.40 317.92 L463.40 317.94 L464.40 317.96 L465.40 317.98 L466.40 318.00 L467.40 318.02 L468.40 318.04 L469.40 318.06 L470.40 318.07 L471.40 318.09 L472.40 318.11 L473.40 318.13 L474.40 318.15 L475.40 318.17 L476.40 318.18 L477.40 318.20 L478.40 318.22 L479.40 318.23 L480.40 318.25 L481.40 318.27 L482.40 318.28 L483.40 318.30 L483.50 318.30" stroke="#0000ff" stroke-width="1.35" stroke-dasharray="4.1 2.1"/>
<path d="M55.40 320.00 L56.40 320.00 L57.40 320.00 L58.40 320.00 L59.40 319.99 L60.40 319.99 L61.40 319.99 L62.40 319.98 L63.40 319.98 L64.40 319.97 L65.40 319.97 L66.40 319.96 L67.40 319.95 L68.40 319.94 L69.40 319.93 L70.40 319.92 L71.40 319.92 L72.40 319.90 L73.40 319.89 L74.40 319.88 L75.40 319.87 L76.40 319.86 L77.40 319.85 L78.40 319.83 L79.40 319.82 L80.40 319.81 L81.40 319.79 L82.40 319.78 L83.40 319.77 L84.40 319.75 L85.40 319.74 L86.40 319.72 L87.40 319.71 L88.40 319.69 L89.40 319.67 L90.40 319.66 L91.40 319.64 L92.40 319.63 L93.40 319.61 L94.40 319.59 L95.40 319.58 L96.40 319.56 L97.40 319.54 L98.40 319.53 L99.40 319.51 L100.40 319.49 L101.40 319.48 L102.40 319.46 L103.40 319.44 L104.40 319.41 L105.40 319.39 L106.40 319.37 L107.40 319.34 L108.40 319.32 L109.40 319.29 L110.40 319.27 L111.40 319.24 L112.40 319.21 L113.40 319.18 L114.40 319.15 L115.40 319.12 L116.40 319.09 L117.40 319.05 L118.40 319.02 L119.40 318.99 L120.40 318.95 L121.40 318.92 L122.40 318.88 L123.40 318.85 L124.40 318.81 L125.40 318.77 L126.40 318.74 L127.40 318.70 L128.40 318.66 L129.40 318.62 L130.40 318.58 L131.40 318.54 L132.40 318.50 L133.40 318.46 L134.40 318.41 L135.40 318.36 L136.40 318.31 L137.40 318.26 L138.40 318.21 L139.40 318.16 L140.40 318.10 L141.40 318.05 L142.40 317.99 L143.40 317.93 L144.40 317.88 L145.40 317.82 L146.40 317.76 L147.40 317.70 L148.40 317.64 L149.40 317.59 L150.40 317.53 L151.40 317.47 L152.40 317.41 L153.40 317.35 L154.40 317.30 L155.40 317.24 L156.40 317.19 L157.40 317.13 L158.40 317.08 L159.40 317.03 L160.40 316.98 L161.40 316.93 L162.40 316.88 L163.40 316.82 L164.40 316.77 L165.40 316.72 L166.40 316.66 L167.40 316.60 L168.40 316.55 L169.40 316.49 L170.40 316.44 L171.40 316.38 L172.40 316.33 L173.40 316.27 L174.40 316.22 L175.40 316.17 L176.40 316.11 L177.40 316.06 L178.40 316.01 L179.40 315.97 L180.40 315.92 L181.40 315.88 L182.40 315.84 L183.40 315.80 L184.40 315.76 L185.40 315.72 L186.40 315.69 L187.40 315.66 L188.40 315.64 L189.40 315.61 L190.40 315.59 L191.40 315.57 L192.40 315.55 L193.40 315.53 L194.40 315.52 L195.40 315.50 L196.40 315.48 L197.40 315.46 L198.40 315.45 L199.40 315.44 L200.40 315.43 L201.40 315.42 L202.40 315.41 L203.40 315.40 L204.40 315.40 L205.40 315.40 L206.40 315.40 L207.40 315.41 L208.40 315.43 L209.40 315.44 L210.40 315.46 L211.40 315.48 L212.40 315.51 L213.40 315.54 L214.40 315.57 L215.40 315.60 L216.40 315.64 L217.40 315.68 L218.40 315.72 L219.40 315.76 L220.40 315.80 L221.40 315.84 L222.40 315.88 L223.40 315.93 L224.40 315.97 L225.40 316.01 L226.40 316.06 L227.40 316.10 L228.40 316.14 L229.40 316.18 L230.40 316.22 L231.40 316.25 L232.40 316.30 L233.40 316.34 L234.40 316.38 L235.40 316.42 L236.40 316.47 L237.40 316.52 L238.40 316.56 L239.40 316.61 L240.40 316.66 L241.40 316.71 L242.40 316.76 L243.40 316.81 L244.40 316.86 L245.40 316.91 L246.40 316.96 L247.40 317.01 L248.40 317.06 L249.40 317.11 L250.40 317.16 L251.40 317.21 L252.40 317.26 L253.40 317.31 L254.40 317.35 L255.40 317.40 L256.40 317.45 L257.40 317.49 L258.40 317.53 L259.40 317.58 L260.40 317.62 L261.40 317.66 L262.40 317.70 L263.40 317.74 L264.40 317.78 L265.40 317.82 L266.40 317.86 L267.40 317.90 L268.40 317.94 L269.40 317.98 L270.40 318.02 L271.40 318.06 L272.40 318.10 L273.40 318.14 L274.40 318.18 L275.40 318.22 L276.40 318.25 L277.40 318.29 L278.40 318.33 L279.40 318.37 L280.40 318.40 L281.40 318.44 L282.40 318.48 L283.40 318.51 L284.40 318.55 L285.40 318.58 L286.40 318.62 L287.40 318.65 L288.40 318.68 L289.40 318.71 L290.40 318.74 L291.40 318.77 L292.40 318.80 L293.40 318.83 L294.40 318.86 L295.40 318.89 L296.40 318.91 L297.40 318.94 L298.40 318.96 L299.40 318.99 L300.40 319.01 L301.40 319.03 L302.40 319.05 L303.40 319.07 L304.40 319.10 L305.40 319.12 L306.40 319.14 L307.40 319.16 L308.40 319.18 L309.40 319.20 L310.40 319.22 L311.40 319.24 L312.40 319.26 L313.40 319.28 L314.40 319.30 L315.40 319.32 L316.40 319.34 L317.40 319.36 L318.40 319.38 L319.40 319.40 L320.40 319.42 L321.40 319.44 L322.40 319.45 L323.40 319.47 L324.40 319.49 L325.40 319.50 L326.40 319.52 L327.40 319.54 L328.40 319.55 L329.40 319.57 L330.40 319.58 L331.40 319.60 L332.40 319.61 L333.40 319.63 L334.40 319.64 L335.40 319.65 L336.40 319.67 L337.40 319.68 L338.40 319.69 L339.40 319.70 L340.40 319.71 L341.40 319.72 L342.40 319.74 L343.40 319.75 L344.40 319.75 L345.40 319.76 L346.40 319.77 L347.40 319.78 L348.40 319.79 L349.40 319.80 L350.40 319.80 L351.40 319.81 L352.40 319.82 L353.40 319.82 L354.40 319.83 L355.40 319.84 L356.40 319.84 L357.40 319.85 L358.40 319.86 L359.40 319.86 L360.40 319.87 L361.40 319.87 L362.40 319.88 L363.40 319.89 L364.40 319.89 L365.40 319.90 L366.40 319.91 L367.40 319.91 L368.40 319.92 L369.40 319.92 L370.40 319.93 L371.40 319.94 L372.40 319.94 L373.40 319.95 L374.40 319.95 L375.40 319.96 L376.40 319.96 L377.40 319.97 L378.40 319.98 L379.40 319.98 L380.40 319.99 L381.40 319.99 L382.40 320.00 L383.40 320.00 L384.40 320.01 L385.40 320.01 L386.40 320.02 L387.40 320.03 L388.40 320.03 L389.40 320.04 L390.40 320.04 L391.40 320.05 L392.40 320.05 L393.40 320.06 L394.40 320.06 L395.40 320.07 L396.40 320.07 L397.40 320.08 L398.40 320.08 L399.40 320.09 L400.40 320.09 L401.40 320.10 L402.40 320.10 L403.40 320.10 L404.40 320.11 L405.40 320.11 L406.40 320.12 L407.40 320.12 L408.40 320.13 L409.40 320.13 L410.40 320.14 L411.40 320.14 L412.40 320.14 L413.40 320.15 L414.40 320.15 L415.40 320.16 L416.40 320.16 L417.40 320.16 L418.40 320.17 L419.40 320.17 L420.40 320.18 L421.40 320.18 L422.40 320.18 L423.40 320.19 L424.40 320.19 L425.40 320.19 L426.40 320.20 L427.40 320.20 L428.40 320.20 L429.40 320.21 L430.40 320.21 L431.40 320.21 L432.40 320.22 L433.40 320.22 L434.40 320.22 L435.40 320.23 L436.40 320.23 L437.40 320.23 L438.40 320.23 L439.40 320.24 L440.40 320.24 L441.40 320.24 L442.40 320.25 L443.40 320.25 L444.40 320.25 L445.40 320.25 L446.40 320.26 L447.40 320.26 L448.40 320.26 L449.40 320.26 L450.40 320.26 L451.40 320.27 L452.40 320.27 L453.40 320.27 L454.40 320.27 L455.40 320.27 L456.40 320.28 L457.40 320.28 L458.40 320.28 L459.40 320.28 L460.40 320.28 L461.40 320.28 L462.40 320.29 L463.40 320.29 L464.40 320.29 L465.40 320.29 L466.40 320.29 L467.40 320.29 L468.40 320.29 L469.40 320.29 L470.40 320.29 L471.40 320.30 L472.40 320.30 L473.40 320.30 L474.40 320.30 L475.40 320.30 L476.40 320.30 L477.40 320.30 L478.40 320.30 L479.40 320.30 L480.40 320.30 L481.40 320.30 L482.40 320.30 L483.40 320.30 L483.50 320.30" stroke="#00ff00" stroke-width="1.35" stroke-dasharray="1.4 2.15"/>
<path d="M55.40 320.20 L56.40 320.20 L57.40 320.20 L58.40 320.20 L59.40 320.20 L60.40 320.19 L61.40 320.19 L62.40 320.19 L63.40 320.19 L64.40 320.18 L65.40 320.18 L66.40 320.18 L67.40 320.17 L68.40 320.17 L69.40 320.16 L70.40 320.16 L71.40 320.15 L72.40 320.14 L73.40 320.14 L74.40 320.13 L75.40 320.12 L76.40 320.12 L77.40 320.11 L78.40 320.10 L79.40 320.09 L80.40 320.09 L81.40 320.08 L82.40 320.07 L83.40 320.06 L84.40 320.05 L85.40 320.04 L86.40 320.04 L87.40 320.03 L88.40 320.02 L89.40 320.01 L90.40 320.00 L91.40 319.99 L92.40 319.98 L93.40 319.97 L94.40 319.96 L95.40 319.95 L96.40 319.94 L97.40 319.93 L98.40 319.92 L99.40 319.91 L100.40 319.90 L101.40 319.88 L102.40 319.87 L103.40 319.86 L104.40 319.85 L105.40 319.83 L106.40 319.82 L107.40 319.80 L108.40 319.78 L109.40 319.77 L110.40 319.75 L111.40 319.73 L112.40 319.71 L113.40 319.69 L114.40 319.67 L115.40 319.65 L116.40 319.63 L117.40 319.61 L118.40 319.58 L119.40 319.56 L120.40 319.54 L121.40 319.51 L122.40 319.49 L123.40 319.47 L124.40 319.44 L125.40 319.42 L126.40 319.39 L127.40 319.37 L128.40 319.34 L129.40 319.32 L130.40 319.29 L131.40 319.26 L132.40 319.24 L133.40 319.21 L134.40 319.18 L135.40 319.15 L136.40 319.12 L137.40 319.08 L138.40 319.05 L139.40 319.02 L140.40 318.99 L141.40 318.95 L142.40 318.92 L143.40 318.88 L144.40 318.84 L145.40 318.81 L146.40 318.77 L147.40 318.73 L148.40 318.69 L149.40 318.65 L150.40 318.61 L151.40 318.57 L152.40 318.53 L153.40 318.49 L154.40 318.44 L155.40 318.40 L156.40 318.36 L157.40 318.31 L158.40 318.27 L159.40 318.23 L160.40 318.18 L161.40 318.13 L162.40 318.08 L163.40 318.02 L164.40 317.97 L165.40 317.90 L166.40 317.84 L167.40 317.77 L168.40 317.71 L169.40 317.64 L170.40 317.57 L171.40 317.50 L172.40 317.43 L173.40 317.36 L174.40 317.30 L175.40 317.23 L176.40 317.17 L177.40 317.11 L178.40 317.06 L179.40 317.00 L180.40 316.96 L181.40 316.91 L182.40 316.87 L183.40 316.84 L184.40 316.81 L185.40 316.79 L186.40 316.77 L187.40 316.75 L188.40 316.73 L189.40 316.71 L190.40 316.70 L191.40 316.68 L192.40 316.66 L193.40 316.65 L194.40 316.64 L195.40 316.62 L196.40 316.62 L197.40 316.61 L198.40 316.60 L199.40 316.60 L200.40 316.60 L201.40 316.60 L202.40 316.60 L203.40 316.61 L204.40 316.61 L205.40 316.62 L206.40 316.63 L207.40 316.63 L208.40 316.64 L209.40 316.65 L210.40 316.67 L211.40 316.68 L212.40 316.69 L213.40 316.71 L214.40 316.72 L215.40 316.73 L216.40 316.75 L217.40 316.77 L218.40 316.78 L219.40 316.80 L220.40 316.82 L221.40 316.84 L222.40 316.86 L223.40 316.87 L224.40 316.89 L225.40 316.91 L226.40 316.93 L227.40 316.95 L228.40 316.97 L229.40 316.99 L230.40 317.01 L231.40 317.03 L232.40 317.05 L233.40 317.08 L234.40 317.10 L235.40 317.13 L236.40 317.16 L237.40 317.19 L238.40 317.22 L239.40 317.25 L240.40 317.28 L241.40 317.32 L242.40 317.35 L243.40 317.39 L244.40 317.43 L245.40 317.46 L246.40 317.50 L247.40 317.54 L248.40 317.58 L249.40 317.61 L250.40 317.65 L251.40 317.69 L252.40 317.73 L253.40 317.77 L254.40 317.80 L255.40 317.84 L256.40 317.88 L257.40 317.91 L258.40 317.95 L259.40 317.98 L260.40 318.01 L261.40 318.05 L262.40 318.08 L263.40 318.12 L264.40 318.15 L265.40 318.19 L266.40 318.22 L267.40 318.26 L268.40 318.30 L269.40 318.33 L270.40 318.37 L271.40 318.41 L272.40 318.44 L273.40 318.48 L274.40 318.52 L275.40 318.56 L276.40 318.59 L277.40 318.63 L278.40 318.67 L279.40 318.70 L280.40 318.74 L281.40 318.78 L282.40 318.81 L283.40 318.85 L284.40 318.88 L285.40 318.91 L286.40 318.95 L287.40 318.98 L288.40 319.01 L289.40 319.04 L290.40 319.07 L291.40 319.10 L292.40 319.13 L293.40 319.15 L294.40 319.18 L295.40 319.20 L296.40 319.23 L297.40 319.25 L298.40 319.27 L299.40 319.29 L300.40 319.31 L301.40 319.32 L302.40 319.34 L303.40 319.36 L304.40 319.38 L305.40 319.39 L306.40 319.41 L307.40 319.43 L308.40 319.44 L309.40 319.46 L310.40 319.47 L311.40 319.49 L312.40 319.51 L313.40 319.52 L314.40 319.54 L315.40 319.55 L316.40 319.56 L317.40 319.58 L318.40 319.59 L319.40 319.61 L320.40 319.62 L321.40 319.63 L322.40 319.65 L323.40 319.66 L324.40 319.67 L325.40 319.68 L326.40 319.70 L327.40 319.71 L328.40 319.72 L329.40 319.73 L330.40 319.74 L331.40 319.75 L332.40 319.76 L333.40 319.77 L334.40 319.78 L335.40 319.79 L336.40 319.80 L337.40 319.81 L338.40 319.82 L339.40 319.83 L340.40 319.84 L341.40 319.84 L342.40 319.85 L343.40 319.86 L344.40 319.87 L345.40 319.87 L346.40 319.88 L347.40 319.89 L348.40 319.89 L349.40 319.90 L350.40 319.90 L351.40 319.91 L352.40 319.91 L353.40 319.92 L354.40 319.92 L355.40 319.93 L356.40 319.93 L357.40 319.94 L358.40 319.94 L359.40 319.95 L360.40 319.95 L361.40 319.96 L362.40 319.96 L363.40 319.97 L364.40 319.97 L365.40 319.98 L366.40 319.98 L367.40 319.99 L368.40 319.99 L369.40 320.00 L370.40 320.00 L371.40 320.01 L372.40 320.01 L373.40 320.02 L374.40 320.02 L375.40 320.03 L376.40 320.03 L377.40 320.03 L378.40 320.04 L379.40 320.04 L380.40 320.05 L381.40 320.05 L382.40 320.06 L383.40 320.06 L384.40 320.07 L385.40 320.07 L386.40 320.07 L387.40 320.08 L388.40 320.08 L389.40 320.09 L390.40 320.09 L391.40 320.10 L392.40 320.10 L393.40 320.10 L394.40 320.11 L395.40 320.11 L396.40 320.12 L397.40 320.12 L398.40 320.12 L399.40 320.13 L400.40 320.13 L401.40 320.13 L402.40 320.14 L403.40 320.14 L404.40 320.15 L405.40 320.15 L406.40 320.15 L407.40 320.16 L408.40 320.16 L409.40 320.16 L410.40 320.17 L411.40 320.17 L412.40 320.17 L413.40 320.18 L414.40 320.18 L415.40 320.18 L416.40 320.19 L417.40 320.19 L418.40 320.19 L419.40 320.20 L420.40 320.20 L421.40 320.20 L422.40 320.21 L423.40 320.21 L424.40 320.21 L425.40 320.21 L426.40 320.22 L427.40 320.22 L428.40 320.22 L429.40 320.22 L430.40 320.23 L431.40 320.23 L432.40 320.23 L433.40 320.24 L434.40 320.24 L435.40 320.24 L436.40 320.24 L437.40 320.24 L438.40 320.25 L439.40 320.25 L440.40 320.25 L441.40 320.25 L442.40 320.26 L443.40 320.26 L444.40 320.26 L445.40 320.26 L446.40 320.26 L447.40 320.27 L448.40 320.27 L449.40 320.27 L450.40 320.27 L451.40 320.27 L452.40 320.27 L453.40 320.28 L454.40 320.28 L455.40 320.28 L456.40 320.28 L457.40 320.28 L458.40 320.28 L459.40 320.28 L460.40 320.29 L461.40 320.29 L462.40 320.29 L463.40 320.29 L464.40 320.29 L465.40 320.29 L466.40 320.29 L467.40 320.29 L468.40 320.29 L469.40 320.29 L470.40 320.30 L471.40 320.30 L472.40 320.30 L473.40 320.30 L474.40 320.30 L475.40 320.30 L476.40 320.30 L477.40 320.30 L478.40 320.30 L479.40 320.30 L480.40 320.30 L481.40 320.30 L482.40 320.30 L483.40 320.30 L483.50 320.30" stroke="#ff00ff" stroke-width="1.35" stroke-dasharray="4.2 1.3 1.0 1.3"/>
<path d="M55.40 320.30 L56.40 320.30 L57.40 320.30 L58.40 320.30 L59.40 320.30 L60.40 320.30 L61.40 320.29 L62.40 320.29 L63.40 320.29 L64.40 320.29 L65.40 320.29 L66.40 320.28 L67.40 320.28 L68.40 320.28 L69.40 320.27 L70.40 320.27 L71.40 320.27 L72.40 320.26 L73.40 320.26 L74.40 320.25 L75.40 320.25 L76.40 320.25 L77.40 320.24 L78.40 320.24 L79.40 320.23 L80.40 320.22 L81.40 320.22 L82.40 320.21 L83.40 320.21 L84.40 320.20 L85.40 320.20 L86.40 320.19 L87.40 320.18 L88.40 320.18 L89.40 320.17 L90.40 320.16 L91.40 320.16 L92.40 320.15 L93.40 320.15 L94.40 320.14 L95.40 320.13 L96.40 320.12 L97.40 320.12 L98.40 320.11 L99.40 320.10 L100.40 320.10 L101.40 320.09 L102.40 320.08 L103.40 320.07 L104.40 320.07 L105.40 320.06 L106.40 320.05 L107.40 320.04 L108.40 320.03 L109.40 320.02 L110.40 320.01 L111.40 320.00 L112.40 319.99 L113.40 319.97 L114.40 319.96 L115.40 319.95 L116.40 319.94 L117.40 319.92 L118.40 319.91 L119.40 319.89 L120.40 319.88 L121.40 319.86 L122.40 319.84 L123.40 319.83 L124.40 319.81 L125.40 319.79 L126.40 319.77 L127.40 319.75 L128.40 319.73 L129.40 319.71 L130.40 319.69 L131.40 319.67 L132.40 319.64 L133.40 319.61 L134.40 319.57 L135.40 319.53 L136.40 319.49 L137.40 319.45 L138.40 319.41 L139.40 319.36 L140.40 319.31 L141.40 319.26 L142.40 319.21 L143.40 319.16 L144.40 319.11 L145.40 319.05 L146.40 319.00 L147.40 318.94 L148.40 318.89 L149.40 318.83 L150.40 318.78 L151.40 318.71 L152.40 318.64 L153.40 318.56 L154.40 318.47 L155.40 318.38 L156.40 318.30 L157.40 318.21 L158.40 318.12 L159.40 318.04 L160.40 317.97 L161.40 317.91 L162.40 317.86 L163.40 317.82 L164.40 317.80 L165.40 317.80 L166.40 317.80 L167.40 317.80 L168.40 317.80 L169.40 317.80 L170.40 317.80 L171.40 317.80 L172.40 317.80 L173.40 317.80 L174.40 317.80 L175.40 317.80 L176.40 317.80 L177.40 317.80 L178.40 317.80 L179.40 317.80 L180.40 317.80 L181.40 317.80 L182.40 317.80 L183.40 317.80 L184.40 317.80 L185.40 317.80 L186.40 317.80 L187.40 317.80 L188.40 317.80 L189.40 317.80 L190.40 317.80 L191.40 317.80 L192.40 317.80 L193.40 317.80 L194.40 317.80 L195.40 317.80 L196.40 317.80 L197.40 317.80 L198.40 317.80 L199.40 317.80 L200.40 317.80 L201.40 317.80 L202.40 317.80 L203.40 317.80 L204.40 317.80 L205.40 317.80 L206.40 317.80 L207.40 317.80 L208.40 317.80 L209.40 317.80 L210.40 317.80 L211.40 317.80 L212.40 317.80 L213.40 317.80 L214.40 317.80 L215.40 317.80 L216.40 317.80 L217.40 317.80 L218.40 317.80 L219.40 317.80 L220.40 317.80 L221.40 317.80 L222.40 317.80 L223.40 317.80 L224.40 317.80 L225.40 317.80 L226.40 317.80 L227.40 317.80 L228.40 317.80 L229.40 317.80 L230.40 317.80 L231.40 317.80 L232.40 317.81 L233.40 317.81 L234.40 317.82 L235.40 317.83 L236.40 317.85 L237.40 317.86 L238.40 317.88 L239.40 317.89 L240.40 317.91 L241.40 317.93 L242.40 317.95 L243.40 317.98 L244.40 318.00 L245.40 318.02 L246.40 318.05 L247.40 318.07 L248.40 318.10 L249.40 318.13 L250.40 318.15 L251.40 318.18 L252.40 318.21 L253.40 318.23 L254.40 318.26 L255.40 318.29 L256.40 318.31 L257.40 318.34 L258.40 318.36 L259.40 318.39 L260.40 318.41 L261.40 318.43 L262.40 318.46 L263.40 318.48 L264.40 318.51 L265.40 318.54 L266.40 318.57 L267.40 318.60 L268.40 318.62 L269.40 318.65 L270.40 318.69 L271.40 318.72 L272.40 318.75 L273.40 318.78 L274.40 318.81 L275.40 318.84 L276.40 318.88 L277.40 318.91 L278.40 318.94 L279.40 318.97 L280.40 319.00 L281.40 319.03 L282.40 319.07 L283.40 319.10 L284.40 319.13 L285.40 319.16 L286.40 319.19 L287.40 319.22 L288.40 319.24 L289.40 319.27 L290.40 319.30 L291.40 319.32 L292.40 319.35 L293.40 319.37 L294.40 319.40 L295.40 319.42 L296.40 319.44 L297.40 319.46 L298.40 319.47 L299.40 319.49 L300.40 319.51 L301.40 319.52 L302.40 319.54 L303.40 319.55 L304.40 319.56 L305.40 319.58 L306.40 319.59 L307.40 319.61 L308.40 319.62 L309.40 319.63 L310.40 319.64 L311.40 319.66 L312.40 319.67 L313.40 319.68 L314.40 319.69 L315.40 319.71 L316.40 319.72 L317.40 319.73 L318.40 319.74 L319.40 319.75 L320.40 319.76 L321.40 319.77 L322.40 319.79 L323.40 319.80 L324.40 319.81 L325.40 319.82 L326.40 319.83 L327.40 319.84 L328.40 319.84 L329.40 319.85 L330.40 319.86 L331.40 319.87 L332.40 319.88 L333.40 319.89 L334.40 319.90 L335.40 319.91 L336.40 319.91 L337.40 319.92 L338.40 319.93 L339.40 319.94 L340.40 319.94 L341.40 319.95 L342.40 319.96 L343.40 319.96 L344.40 319.97 L345.40 319.97 L346.40 319.98 L347.40 319.99 L348.40 319.99 L349.40 320.00 L350.40 320.00 L351.40 320.01 L352.40 320.01 L353.40 320.02 L354.40 320.02 L355.40 320.03 L356.40 320.03 L357.40 320.04 L358.40 320.04 L359.40 320.05 L360.40 320.05 L361.40 320.06 L362.40 320.06 L363.40 320.07 L364.40 320.07 L365.40 320.08 L366.40 320.08 L367.40 320.08 L368.40 320.09 L369.40 320.09 L370.40 320.10 L371.40 320.10 L372.40 320.11 L373.40 320.11 L374.40 320.12 L375.40 320.12 L376.40 320.13 L377.40 320.13 L378.40 320.13 L379.40 320.14 L380.40 320.14 L381.40 320.15 L382.40 320.15 L383.40 320.16 L384.40 320.16 L385.40 320.17 L386.40 320.17 L387.40 320.17 L388.40 320.18 L389.40 320.18 L390.40 320.19 L391.40 320.19 L392.40 320.19 L393.40 320.20 L394.40 320.20 L395.40 320.21 L396.40 320.21 L397.40 320.21 L398.40 320.22 L399.40 320.22 L400.40 320.23 L401.40 320.23 L402.40 320.23 L403.40 320.24 L404.40 320.24 L405.40 320.24 L406.40 320.25 L407.40 320.25 L408.40 320.26 L409.40 320.26 L410.40 320.26 L411.40 320.27 L412.40 320.27 L413.40 320.27 L414.40 320.28 L415.40 320.28 L416.40 320.28 L417.40 320.29 L418.40 320.29 L419.40 320.29 L420.40 320.30 L421.40 320.30 L422.40 320.30 L423.40 320.30 L424.40 320.31 L425.40 320.31 L426.40 320.31 L427.40 320.32 L428.40 320.32 L429.40 320.32 L430.40 320.32 L431.40 320.33 L432.40 320.33 L433.40 320.33 L434.40 320.33 L435.40 320.34 L436.40 320.34 L437.40 320.34 L438.40 320.34 L439.40 320.35 L440.40 320.35 L441.40 320.35 L442.40 320.35 L443.40 320.36 L444.40 320.36 L445.40 320.36 L446.40 320.36 L447.40 320.36 L448.40 320.37 L449.40 320.37 L450.40 320.37 L451.40 320.37 L452.40 320.37 L453.40 320.37 L454.40 320.38 L455.40 320.38 L456.40 320.38 L457.40 320.38 L458.40 320.38 L459.40 320.38 L460.40 320.38 L461.40 320.39 L462.40 320.39 L463.40 320.39 L464.40 320.39 L465.40 320.39 L466.40 320.39 L467.40 320.39 L468.40 320.39 L469.40 320.39 L470.40 320.40 L471.40 320.40 L472.40 320.40 L473.40 320.40 L474.40 320.40 L475.40 320.40 L476.40 320.40 L477.40 320.40 L478.40 320.40 L479.40 320.40 L480.40 320.40 L481.40 320.40 L482.40 320.40 L483.40 320.40 L483.50 320.40" stroke="#6c6c6c" stroke-width="1.1" stroke-dasharray="4 1.6 1 1.5 1 2.4"/>
</g>
<text transform="translate(55.40 334.00) scale(1.05 1)" text-anchor="middle">-3.0</text>
<text transform="translate(108.91 334.00) scale(1.05 1)" text-anchor="middle">-2.5</text>
<text transform="translate(162.43 334.00) scale(1.05 1)" text-anchor="middle">-2.0</text>
<text transform="translate(215.94 334.00) scale(1.05 1)" text-anchor="middle">-1.5</text>
<text transform="translate(269.45 334.00) scale(1.05 1)" text-anchor="middle">-1.0</text>
<text transform="translate(322.96 334.00) scale(1.05 1)" text-anchor="middle">-0.5</text>
<text transform="translate(376.48 334.00) scale(1.05 1)" text-anchor="middle">0.0</text>
<text transform="translate(429.99 334.00) scale(1.05 1)" text-anchor="middle">0.5</text>
<text transform="translate(483.50 334.00) scale(1.05 1)" text-anchor="middle">1.0</text>
<text transform="translate(49.30 324.30) scale(1 1)" text-anchor="end">0.00</text>
<text transform="translate(49.30 301.95) scale(1 1)" text-anchor="end">0.05</text>
<text transform="translate(49.30 279.60) scale(1 1)" text-anchor="end">0.10</text>
<text transform="translate(49.30 257.25) scale(1 1)" text-anchor="end">0.15</text>
<text transform="translate(49.30 234.90) scale(1 1)" text-anchor="end">0.20</text>
<text transform="translate(49.30 212.55) scale(1 1)" text-anchor="end">0.25</text>
<text transform="translate(49.30 190.20) scale(1 1)" text-anchor="end">0.30</text>
<path d="M108.91 320.60 V316.20 M108.91 186.50 V190.90 M162.43 320.60 V316.20 M162.43 186.50 V190.90 M215.94 320.60 V316.20 M215.94 186.50 V190.90 M269.45 320.60 V316.20 M269.45 186.50 V190.90 M322.96 320.60 V316.20 M322.96 186.50 V190.90 M376.48 320.60 V316.20 M376.48 186.50 V190.90 M429.99 320.60 V316.20 M429.99 186.50 V190.90 M55.40 298.25 H59.80 M483.50 298.25 H479.10 M55.40 275.90 H59.80 M483.50 275.90 H479.10 M55.40 253.55 H59.80 M483.50 253.55 H479.10 M55.40 231.20 H59.80 M483.50 231.20 H479.10 M55.40 208.85 H59.80 M483.50 208.85 H479.10" stroke="#000" stroke-width="2.4" fill="none"/>
<rect x="55.40" y="186.50" width="428.10" height="134.10" fill="none" stroke="#000" stroke-width="2.5"/>
<text class="sym" transform="translate(269.60 348.70) scale(1.14 1.02)" text-anchor="middle" style="font-size:13.4px">&#969;</text>
<text transform="translate(19.90 253.50) rotate(-90) scale(1.03 1)" text-anchor="middle"><tspan class="sym" style="font-size:13px">&#961;</tspan>(<tspan class="sym" style="font-size:13px">&#969;</tspan>)</text>
<text transform="translate(66.00 212.70) scale(1.05 1)">spin up</text>
</svg></body></html>
